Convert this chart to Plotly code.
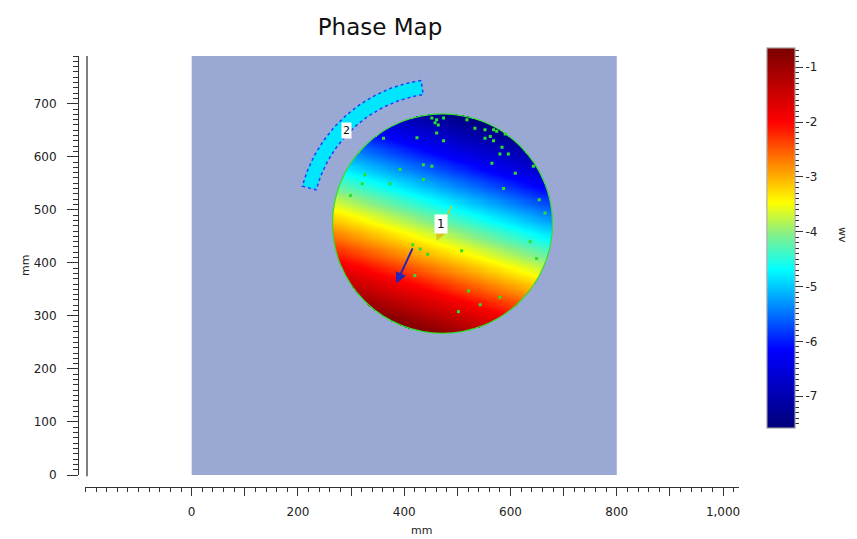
import numpy as np
import plotly.graph_objects as go

# ---------------- data ----------------
title_text = "Phase Map"
x_title = "mm"
y_title = "mm"
cbar_title = "wv"

# sample aperture (mm)
aperture_x = [0, 800]
aperture_y = [0, 790]

# measured pupil (mm)
pupil_center = [472, 474]
pupil_radius = 207

# fitted phase plane (waves): piston at centre and tilt per mm
phase_piston = -4.115
phase_tilt_x = -0.0052
phase_tilt_y = -0.0159
phase_min = -7.58
phase_max = -0.65

# dropout pixels inside pupil (mm)
drop_x = [452, 461, 474, 458, 464, 518, 533, 552, 568, 574, 552, 562, 568, 590, 424, 461,
          474, 361, 584, 565, 580, 596, 609, 643, 436, 452, 392, 326, 321, 373, 436, 587,
          299, 654, 665, 637, 649, 508, 444, 430, 420, 521, 543, 502, 580, 416]
drop_y = [673, 670, 673, 664, 660, 670, 654, 651, 651, 648, 635, 638, 630, 643, 636, 645,
          630, 635, 618, 588, 605, 605, 569, 582, 585, 582, 576, 566, 549, 549, 557, 540,
          527, 519, 494, 440, 408, 423, 416, 426, 376, 347, 321, 308, 335, 434]

# region 2: annular sector around pupil (mm, degrees)
sector_r_inner = 246
sector_r_outer = 273
sector_theta = [98.5, 165]

# arrows: (tail x, tail y, head x, head y) in mm
arrow1 = [490, 510, 461, 441]
arrow_blue = [417, 430, 385, 361]
label1_pos = [470, 473]
label2_pos = [292, 650]

# axes
x_range = [-200, 1030]
y_range = [0, 790]
x_tickvals = list(range(0, 1001, 100))
x_ticktext = ["0", "", "200", "", "400", "", "600", "", "800", "", "1,000"]
cbar_major = [-1, -2, -3, -4, -5, -6, -7]
cbar_minor = [round(v * 0.1, 1) for v in range(-75, -6)]

colorscale = [
    [0.0, "#00007a"],
    [0.206, "#0000ff"],
    [0.417, "#00ffff"],
    [0.51, "#86f088"],
    [0.593, "#ffff00"],
    [0.69, "#ff8c00"],
    [0.805, "#ff0000"],
    [1.0, "#7a0000"],
]

# ---------------- build phase field ----------------
xc, yc = pupil_center
gx = np.arange(xc - pupil_radius, xc + pupil_radius + 2, 2.0)
gy = np.arange(yc - pupil_radius, yc + pupil_radius + 2, 2.0)
XX, YY = np.meshgrid(gx, gy)
Z = phase_piston + phase_tilt_x * (XX - xc) + phase_tilt_y * (YY - yc)
Z[(XX - xc) ** 2 + (YY - yc) ** 2 > pupil_radius ** 2] = np.nan

# page body has an 8px margin: work in target pixels minus 8
OFF = 8
W, H = 857 - OFF, 539 - OFF
ML, MT = 78 - OFF, 56 - OFF
PW, PH = 661, 431
MR = W - ML - PW
MB = H - MT - PH


def px_x(p):
    return (p - 78) / PW


def px_y(p):
    return (487 - p) / PH


CB_X = px_x(767)
CB_Y = px_y(238)

fig = go.Figure()

fig.add_trace(go.Heatmap(
    x=gx, y=gy, z=Z, colorscale=colorscale, zmin=phase_min, zmax=phase_max,
    zsmooth=False, hoverinfo="skip",
    colorbar=dict(
        x=CB_X, xanchor="left", xpad=0, ypad=0,
        y=CB_Y, yanchor="middle",
        thickness=28, len=380, lenmode="pixels",
        outlinewidth=1, outlinecolor="#b0b0b0",
        tickmode="array", tickvals=cbar_major, ticktext=[str(v) for v in cbar_major],
        ticks="outside", ticklen=8, tickcolor="#333", tickwidth=1,
        tickfont=dict(family="DejaVu Sans", size=12, color="#222"),
    ),
))

# minor ticks of colour bar
fig.add_trace(go.Scatter(
    x=[-1000], y=[-1000], mode="markers", hoverinfo="skip", showlegend=False,
    marker=dict(size=1, color=[phase_min], cmin=phase_min, cmax=phase_max,
                colorscale=colorscale, showscale=True,
                colorbar=dict(
                    x=CB_X, xanchor="left", xpad=0, ypad=0,
                    y=CB_Y, yanchor="middle",
                    thickness=28, len=380, lenmode="pixels",
                    outlinewidth=1, outlinecolor="#b0b0b0",
                    tickmode="array", tickvals=cbar_minor,
                    ticks="outside", ticklen=4, tickcolor="#333", tickwidth=1,
                    showticklabels=False,
                )),
))

# sector 2
th = np.radians(np.linspace(sector_theta[0], sector_theta[1], 60))
sx = np.concatenate([xc + sector_r_outer * np.cos(th), xc + sector_r_inner * np.cos(th[::-1])])
sy = np.concatenate([yc + sector_r_outer * np.sin(th), yc + sector_r_inner * np.sin(th[::-1])])
sx = np.append(sx, sx[0])
sy = np.append(sy, sy[0])
fig.add_trace(go.Scatter(
    x=sx, y=sy, mode="lines", fill="toself", fillcolor="#00e6ff",
    line=dict(color="#1f3cff", width=1.5, dash="dot"), hoverinfo="skip", showlegend=False,
))

# dropouts
fig.add_trace(go.Scatter(
    x=drop_x, y=drop_y, mode="markers", hoverinfo="skip", showlegend=False,
    marker=dict(symbol="square", size=3, color="#2ee02e", line=dict(width=0)),
))

shapes = [
    dict(type="rect", xref="x", yref="y", x0=aperture_x[0], x1=aperture_x[1],
         y0=aperture_y[0], y1=aperture_y[1], fillcolor="#9aa9d3", line=dict(width=0),
         layer="below"),
    dict(type="circle", xref="x", yref="y", x0=xc - pupil_radius, x1=xc + pupil_radius,
         y0=yc - pupil_radius, y1=yc + pupil_radius, line=dict(color="#33dd33", width=1.2),
         layer="above"),
    dict(type="line", xref="paper", yref="y domain", x0=px_x(87), x1=px_x(87),
         y0=-0.003, y1=1, line=dict(color="#555", width=1.5)),
]

annotations = [
    dict(x=arrow1[2], y=arrow1[3], ax=arrow1[0], ay=arrow1[1], xref="x", yref="y",
         axref="x", ayref="y", showarrow=True, arrowhead=2, arrowsize=1.3, arrowwidth=1.5,
         arrowcolor="#d9c81e", text=""),
    dict(x=arrow_blue[2], y=arrow_blue[3], ax=arrow_blue[0], ay=arrow_blue[1], xref="x",
         yref="y", axref="x", ayref="y", showarrow=True, arrowhead=2, arrowsize=1.1,
         arrowwidth=2, arrowcolor="#2525b8", text=""),
    dict(x=label1_pos[0], y=label1_pos[1], xref="x", yref="y", text="1", showarrow=False,
         bgcolor="white", borderpad=2, font=dict(family="DejaVu Sans", size=12, color="#111")),
    dict(x=label2_pos[0], y=label2_pos[1], xref="x", yref="y", text="2", showarrow=False,
         bgcolor="white", borderpad=1, font=dict(family="DejaVu Sans", size=11, color="#111")),
    dict(x=px_x(843), y=px_y(235), xref="paper", yref="paper", text=cbar_title,
         xanchor="center", yanchor="middle",
         textangle=90, showarrow=False, font=dict(family="DejaVu Sans", size=11, color="#222")),
    dict(x=px_x(421), y=px_y(530), xref="paper", yref="paper", text=x_title,
         xanchor="center", yanchor="middle",
         showarrow=False, font=dict(family="DejaVu Sans", size=11, color="#222")),
    dict(x=px_x(25), y=px_y(265), xref="paper", yref="paper", text=y_title,
         xanchor="center", yanchor="middle",
         textangle=-90, showarrow=False, font=dict(family="DejaVu Sans", size=11, color="#222")),
]

fig.update_layout(
    width=W, height=H,
    margin=dict(l=ML, r=MR, t=MT, b=MB, autoexpand=False),
    paper_bgcolor="white", plot_bgcolor="white",
    showlegend=False,
    title=dict(text=title_text, x=(380 - OFF) / W, xref="container", xanchor="center",
               y=1 - (27 - OFF) / H, yanchor="middle",
               font=dict(family="DejaVu Sans", size=23, color="#111")),
    shapes=shapes, annotations=annotations,
    font=dict(family="DejaVu Sans", size=12, color="#222"),
)

fig.update_xaxes(
    domain=[px_x(85.4), 1], range=x_range, anchor="free", position=0,
    automargin=False,
    showgrid=False, zeroline=False, showline=True, linecolor="#333", linewidth=1,
    tickmode="array", tickvals=x_tickvals, ticktext=x_ticktext,
    ticks="outside", ticklen=8, tickcolor="#333", ticklabelstandoff=6,
    minor=dict(dtick=20, tick0=0, ticks="outside", ticklen=4, tickcolor="#333", showgrid=False),
    tickfont=dict(family="DejaVu Sans", size=12, color="#222"),
)
fig.update_yaxes(
    domain=[px_y(475), 1], range=y_range, anchor="free", position=0,
    automargin=False,
    showgrid=False, zeroline=False, showline=True, linecolor="#333", linewidth=1,
    dtick=100, tick0=0, ticks="outside", ticklen=11, tickcolor="#333", ticklabelstandoff=8,
    minor=dict(dtick=10, tick0=0, ticks="outside", ticklen=5, tickcolor="#333", showgrid=False),
    tickfont=dict(family="DejaVu Sans", size=12, color="#222"),
)

fig.write_html("out.html")
